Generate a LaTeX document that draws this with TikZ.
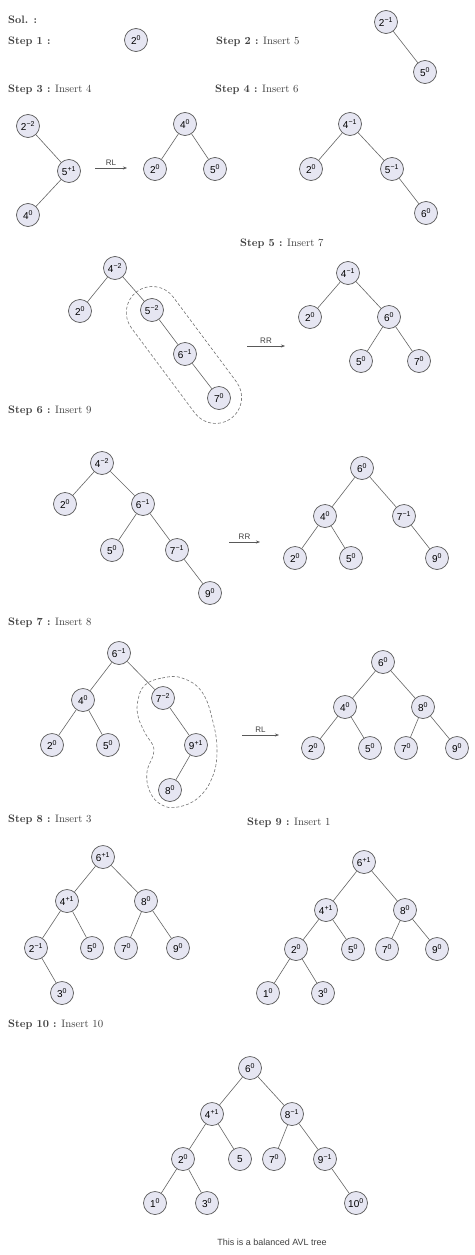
\documentclass[tikz,border=0pt]{standalone}
\usepackage{fontspec}
\newfontfamily\nodefont{Liberation Sans}
\usetikzlibrary{arrows.meta}
\definecolor{nodefill}{HTML}{E6E6F2}
\newcommand{\hb}[2]{#1\textsuperscript{#2}}
\tikzset{avl/.style={circle,draw=black!65,fill=nodefill,line width=0.7pt,minimum size=23pt,inner sep=0pt,
                     font=\nodefont\fontsize{10}{10}\selectfont},
         link/.style={draw=black!60,line width=0.6pt},
         steplabel/.style={anchor=west,inner sep=0pt,text=black!75,font=\fontsize{10.8}{12}\selectfont},
         rot/.style={-{Stealth[length=4pt,width=3pt]},draw=black!65,line width=0.5pt},
         rotlabel/.style={above=1pt,inner sep=1pt,text=black!75,font=\nodefont\fontsize{8}{8}\selectfont},
         blob/.style={draw=black!55,line width=0.6pt,dash pattern=on 3pt off 2pt},
         }

\begin{document}
\begin{tikzpicture}[x=1pt,y=-1pt]
\fill[white] (0,0) rectangle (474,1255);
\useasboundingbox (0,0) rectangle (474,1255);

% step labels
\node[steplabel] (sol) at (8,20) {\bfseries Sol. :};
\node[steplabel] (st1) at (8,42) {\bfseries Step 1 :};
\node[steplabel] (st2) at (216,42) {{\bfseries Step 2 :} Insert 5};
\node[steplabel] (st3) at (8,90) {{\bfseries Step 3 :} Insert 4};
\node[steplabel] (st4) at (215,90) {{\bfseries Step 4 :} Insert 6};
\node[steplabel] (st5) at (240,244) {{\bfseries Step 5 :} Insert 7};
\node[steplabel] (st6) at (8,411) {{\bfseries Step 6 :} Insert 9};
\node[steplabel] (st7) at (8,623) {{\bfseries Step 7 :} Insert 8};
\node[steplabel] (st8) at (8,820) {{\bfseries Step 8 :} Insert 3};
\node[steplabel] (st9) at (247,823) {{\bfseries Step 9 :} Insert 1};
\node[steplabel] (st10) at (8,1025) {{\bfseries Step 10 :} Insert 10};

% step 1 and 2
\node[avl] (t1a) at (136,40) {\hb{2}{0}};
\node[avl] (t2a) at (386,22) {\hb{2}{−1}};
\node[avl] (t2b) at (425,72) {\hb{5}{0}};
\draw[link] (t2a) -- (t2b);

% step 3
\foreach \n/\x/\y/\k/\b in {a/28/126/2/−2,b/69/171/5/+1,c/28/215/4/0}
  \node[avl] (t3\n) at (\x,\y) {\hb{\k}{\b}};
\foreach \p/\c in {a/b,b/c}
  \draw[link] (t3\p) -- (t3\c);
\coordinate (rl1s) at (95,168);
\coordinate (rl1e) at (127,168);
\draw[rot] (rl1s) -- (rl1e) node[midway,rotlabel] {RL};
\foreach \n/\x/\y/\k/\b in {a/185/124/4/0,b/155/169/2/0,c/215/169/5/0}
  \node[avl] (u3\n) at (\x,\y) {\hb{\k}{\b}};
\foreach \p/\c in {a/b,a/c}
  \draw[link] (u3\p) -- (u3\c);

% step 4
\foreach \n/\x/\y/\k/\b in {a/350/124/4/−1,b/311/169/2/0,c/392/169/5/−1,d/426/213/6/0}
  \node[avl] (t4\n) at (\x,\y) {\hb{\k}{\b}};
\foreach \p/\c in {a/b,a/c,c/d}
  \draw[link] (t4\p) -- (t4\c);

% step 5
\node[blob,rounded corners=26pt,minimum width=158pt,minimum height=52pt,rotate=-53.3] (loop5) at (184,355) {};
\foreach \n/\x/\y/\k/\b in {a/115/268/4/−2,b/80/311/2/0,c/152/310/5/−2,d/185/354/6/−1,e/219/398/7/0}
  \node[avl] (t5\n) at (\x,\y) {\hb{\k}{\b}};
\foreach \p/\c in {a/b,a/c,c/d,d/e}
  \draw[link] (t5\p) -- (t5\c);
\coordinate (rr1s) at (247,346);
\coordinate (rr1e) at (285,346);
\draw[rot] (rr1s) -- (rr1e) node[midway,rotlabel] {RR};
\foreach \n/\x/\y/\k/\b in {a/348/273/4/−1,b/310/317/2/0,c/389/317/6/0,d/361/361/5/0,e/419/361/7/0}
  \node[avl] (u5\n) at (\x,\y) {\hb{\k}{\b}};
\foreach \p/\c in {a/b,a/c,c/d,c/e}
  \draw[link] (u5\p) -- (u5\c);

% step 6
\foreach \n/\x/\y/\k/\b in {a/102/463/4/−2,b/65/504/2/0,c/143/504/6/−1,d/112/550/5/0,e/177/550/7/−1,f/210/593/9/0}
  \node[avl] (t6\n) at (\x,\y) {\hb{\k}{\b}};
\foreach \p/\c in {a/b,a/c,c/d,c/e,e/f}
  \draw[link] (t6\p) -- (t6\c);
\coordinate (rr2s) at (229,542);
\coordinate (rr2e) at (260,542);
\draw[rot] (rr2s) -- (rr2e) node[midway,rotlabel] {RR};
\foreach \n/\x/\y/\k/\b in {a/362/468/6/0,b/325/516/4/0,c/404/516/7/−1,d/295/558/2/0,e/351/558/5/0,f/437/558/9/0}
  \node[avl] (u6\n) at (\x,\y) {\hb{\k}{\b}};
\foreach \p/\c in {a/b,a/c,b/d,b/e,c/f}
  \draw[link] (u6\p) -- (u6\c);

% step 7
\draw[blob] plot[smooth cycle,tension=0.7] coordinates {(145,685) (162,678) (182,678) (202,692) (213,722)
  (217,752) (212,778) (198,798) (178,807) (162,805) (150,792) (147,772) (154,750) (145,733) (138,716) (138,700)};
\foreach \n/\x/\y/\k/\b in {a/119/653/6/−1,b/83/700/4/0,c/163/698/7/−2,d/52/745/2/0,e/108/745/5/0,f/196/745/9/+1,g/170/790/8/0}
  \node[avl] (t7\n) at (\x,\y) {\hb{\k}{\b}};
\foreach \p/\c in {a/b,a/c,b/d,b/e,c/f,f/g}
  \draw[link] (t7\p) -- (t7\c);
\coordinate (rl2s) at (242,735);
\coordinate (rl2e) at (279,735);
\draw[rot] (rl2s) -- (rl2e) node[midway,rotlabel] {RL};
\foreach \n/\x/\y/\k/\b in {a/383/662/6/0,b/345/707/4/0,c/423/707/8/0,d/313/748/2/0,e/370/748/5/0,f/406/748/7/0,g/457/748/9/0}
  \node[avl] (u7\n) at (\x,\y) {\hb{\k}{\b}};
\foreach \p/\c in {a/b,a/c,b/d,b/e,c/f,c/g}
  \draw[link] (u7\p) -- (u7\c);

% step 8
\foreach \n/\x/\y/\k/\b in {a/103/857/6/+1,b/67/901/4/+1,c/146/901/8/0,d/36/948/2/−1,e/92/948/5/0,f/126/948/7/0,g/178/948/9/0,h/62/993/3/0}
  \node[avl] (t8\n) at (\x,\y) {\hb{\k}{\b}};
\foreach \p/\c in {a/b,a/c,b/d,b/e,c/f,c/g,d/h}
  \draw[link] (t8\p) -- (t8\c);

% step 9
\foreach \n/\x/\y/\k/\b in {a/364/862/6/+1,b/326/910/4/+1,c/405/910/8/0,d/296/949/2/0,e/353/949/5/0,f/387/949/7/0,g/437/949/9/0,h/268/993/1/0,i/323/993/3/0}
  \node[avl] (t9\n) at (\x,\y) {\hb{\k}{\b}};
\foreach \p/\c in {a/b,a/c,b/d,b/e,c/f,c/g,d/h,d/i}
  \draw[link] (t9\p) -- (t9\c);

% step 10
\foreach \n/\x/\y/\k/\b in {a/250/1068/6/0,b/212/1114/4/+1,c/292/1114/8/−1,d/183/1159/2/0,f/274/1159/7/0,g/325/1159/9/−1,h/155/1203/1/0,i/207/1203/3/0,j/356/1203/10/0}
  \node[avl] (t10\n) at (\x,\y) {\hb{\k}{\b}};
\node[avl] (t10e) at (240,1159) {5};
\foreach \p/\c in {a/b,a/c,b/d,b/e,c/f,c/g,d/h,d/i,g/j}
  \draw[link] (t10\p) -- (t10\c);
\node[text=black!75,font=\nodefont\fontsize{9}{9}\selectfont] (caption) at (272,1242) {This is a balanced AVL tree};
\end{tikzpicture}
\end{document}
